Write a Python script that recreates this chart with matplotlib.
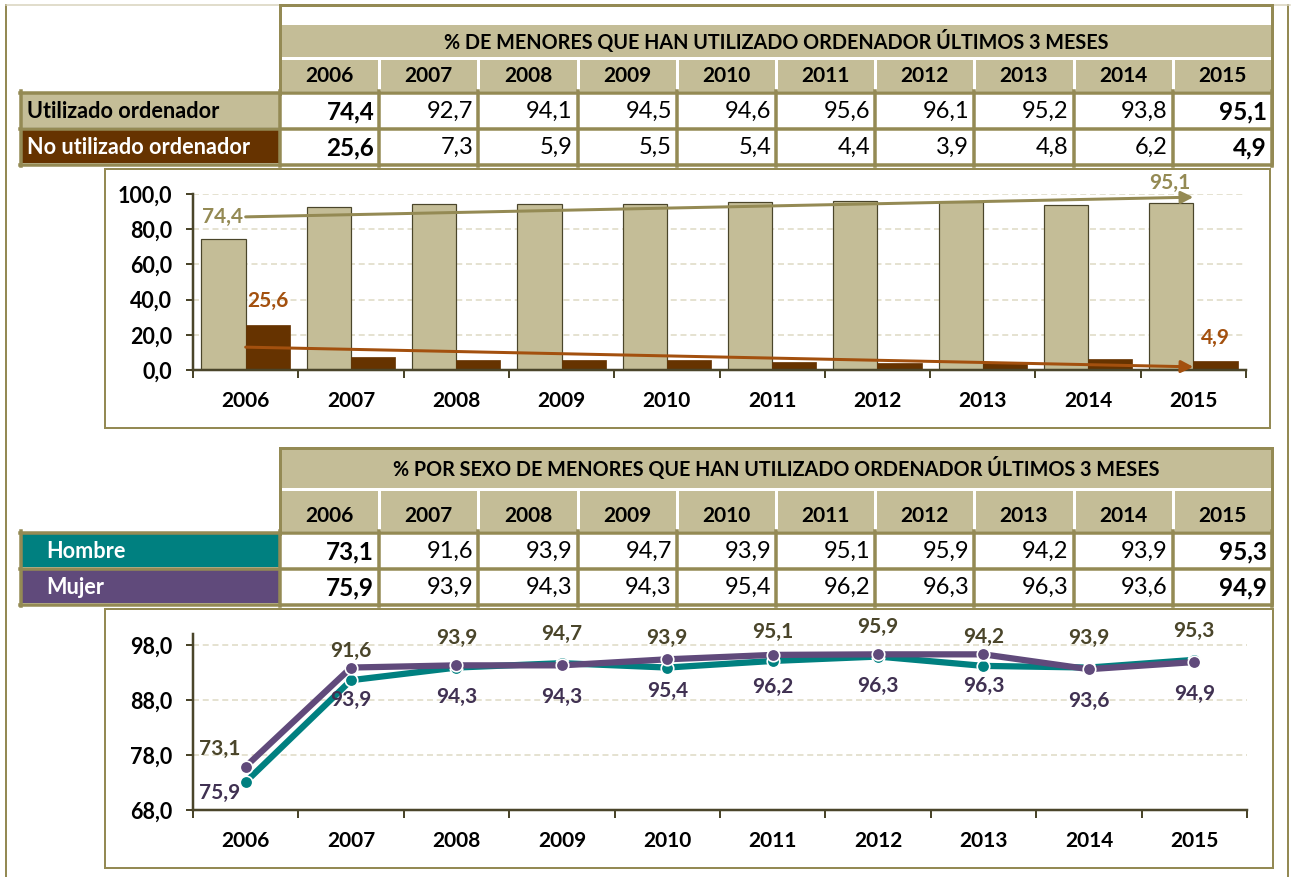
import numpy as np
import matplotlib
matplotlib.use("Agg")
import matplotlib.pyplot as plt
from matplotlib.patches import Rectangle
from matplotlib.ticker import FuncFormatter

# Datos
years = ["2006", "2007", "2008", "2009", "2010", "2011", "2012", "2013", "2014", "2015"]
utilizado = [74.4, 92.7, 94.1, 94.5, 94.6, 95.6, 96.1, 95.2, 93.8, 95.1]
no_utilizado = [25.6, 7.3, 5.9, 5.5, 5.4, 4.4, 3.9, 4.8, 6.2, 4.9]
hombre = [73.1, 91.6, 93.9, 94.7, 93.9, 95.1, 95.9, 94.2, 93.9, 95.3]
mujer = [75.9, 93.9, 94.3, 94.3, 95.4, 96.2, 96.3, 96.3, 93.6, 94.9]

titulo1 = "% DE MENORES QUE HAN UTILIZADO ORDENADOR ÚLTIMOS 3 MESES"
titulo2 = "% POR SEXO DE MENORES QUE HAN UTILIZADO ORDENADOR ÚLTIMOS 3 MESES"
filas1 = ["Utilizado ordenador", "No utilizado ordenador"]
filas2 = ["Hombre", "Mujer"]

# Colores
BEIGE = "#C4BD97"
OLIVA = "#948A54"
MARRON = "#663300"
MARRON_T = "#A3500E"
EJE = "#4A452A"
GRID = "#DDD9C3"
TEAL = "#008080"
MORADO = "#604A7B"
MORADO_T = "#403152"

plt.rcParams["font.family"] = ["Lato", "DejaVu Sans"]

W, H = 1296, 877
fig = plt.figure(figsize=(W / 100, H / 100), dpi=100)
fig.patch.set_facecolor("white")

# Eje de fondo en pixeles para tablas y marcos
bg = fig.add_axes([0, 0, 1, 1])
bg.set_xlim(0, W)
bg.set_ylim(H, 0)
bg.axis("off")

PX = 0.72  # px -> pt


def fmt(v):
    return f"{v:.1f}".replace(".", ",")


# Marco exterior
bg.plot([6, 6], [5, H], color=OLIVA, lw=2 * PX)
bg.plot([6, 280], [5, 5], color="#D8D3BC", lw=1.5 * PX)
bg.plot([1288, 1288], [5, H], color=OLIVA, lw=2 * PX)
bg.plot([1272, 1290], [5, 5], color="#D8D3BC", lw=1.5 * PX)

X0, X1 = 280, 1272
colw = (X1 - X0) / len(years)


def tabla(top, title_y, title_h, head_y, head_h, r1, r2, rh, titulo, filas,
          fill_lab, col_lab, text_x, valores):
    # bandas de titulo y cabecera
    bg.add_patch(Rectangle((X0, title_y), X1 - X0, title_h, fc=BEIGE, ec="none"))
    bg.add_patch(Rectangle((X0, head_y), X1 - X0, head_h, fc=BEIGE, ec="none"))
    bg.text((X0 + X1) / 2, title_y + title_h / 2, titulo, ha="center", va="center",
            fontsize=14.2, fontweight="bold", color="black")
    for i, y in enumerate(years):
        xc = X0 + colw * (i + 0.5)
        bg.text(xc, head_y + head_h - 15, y, ha="center", va="center",
                fontsize=15, fontweight="bold", color="black")
        if i > 0:
            bg.plot([X0 + colw * i] * 2, [head_y, head_y + head_h], color="white", lw=3 * PX)
    # borde superior y lateral
    bg.plot([X0, X1], [top, top], color=OLIVA, lw=3 * PX)
    bg.plot([X0, X0], [top, r1], color=OLIVA, lw=3 * PX)
    bg.plot([X1, X1], [top, r2 + rh], color=OLIVA, lw=3 * PX)
    # filas
    for k, (ry, lab) in enumerate(zip([r1, r2], filas)):
        bg.add_patch(Rectangle((21, ry), X0 - 21, rh, fc=fill_lab[k], ec="none"))
        bg.text(text_x, ry + rh / 2 + 1, lab, ha="left", va="center", fontsize=15.6,
                fontweight="bold", color=col_lab[k])
        for i, v in enumerate(valores[k]):
            bold = i == 0 or i == len(years) - 1
            bg.text(X0 + colw * (i + 1) - 5, ry + rh / 2 + 1, fmt(v), ha="right",
                    va="center", fontsize=17.5 if bold else 17,
                    fontweight="bold" if bold else "normal", color="black")
    # rejilla de la tabla
    for y in [r1 - 1.5, r2 - 1.5, r2 + rh + 1.5]:
        bg.plot([20, X1], [y, y], color=OLIVA, lw=3.5 * PX)
    for x in [21] + [X0 + colw * i for i in range(len(years) + 1)]:
        bg.plot([x, x], [r1 - 3, r2 + rh + 3], color=OLIVA, lw=3.5 * PX)


tabla(5, 25, 32, 60, 31, 94, 130, 33, titulo1, filas1,
      [BEIGE, MARRON], ["black", "white"], 27, [utilizado, no_utilizado])
tabla(448, 449, 39, 491, 40, 534, 570, 33, titulo2, filas2,
      [TEAL, MORADO], ["white", "white"], 46, [hombre, mujer])

# Marcos de los graficos
bg.add_patch(Rectangle((105, 169), 1165, 259, fc="white", ec=OLIVA, lw=2 * PX))
bg.add_patch(Rectangle((105, 609), 1168, 259, fc="white", ec=OLIVA, lw=2 * PX))


def estilo_ejes(ax, ylo, yhi, yticks):
    ax.set_facecolor("none")
    ax.set_xlim(-0.5, len(years) - 0.5)
    ax.set_ylim(ylo, yhi)
    for s in ["top", "right"]:
        ax.spines[s].set_visible(False)
    for s in ["left", "bottom"]:
        ax.spines[s].set_color(EJE)
        ax.spines[s].set_linewidth(2.5 * PX)
    ax.set_yticks(yticks)
    ax.yaxis.set_major_formatter(FuncFormatter(lambda v, p: fmt(v)))
    ax.tick_params(axis="y", length=5, width=2 * PX, color=EJE, pad=10,
                   labelsize=15.5)
    for t in ax.get_yticklabels():
        t.set_fontweight("bold")
    ax.set_xticks(np.arange(len(years)))
    ax.set_xticklabels(years, fontweight="bold", fontsize=15)
    ax.set_xticks(np.arange(len(years) + 1) - 0.5, minor=True)
    ax.tick_params(axis="x", which="major", length=0, pad=15)
    ax.tick_params(axis="x", which="minor", length=6, width=2 * PX, color=EJE)
    for y in yticks[1:]:
        ax.axhline(y, color=GRID, lw=1.5 * PX, ls=(0, (4, 2.5)), zorder=0)


# Grafico de barras
ax1 = fig.add_axes([193 / W, (H - 370) / H, (1246 - 193) / W, (370 - 194) / H])
estilo_ejes(ax1, 0, 100, [0, 20, 40, 60, 80, 100])
x = np.arange(len(years))
bw = 0.42
ax1.bar(x - bw / 2, utilizado, bw, color=BEIGE, edgecolor=EJE, lw=1.2 * PX, zorder=2)
ax1.bar(x + bw / 2, no_utilizado, bw, color=MARRON, edgecolor=MARRON, lw=0.5, zorder=2)

# lineas de tendencia
for serie, col in [(utilizado, OLIVA), (no_utilizado, MARRON_T)]:
    m, b = np.polyfit(x, serie, 1)
    ax1.annotate("", xy=(x[-1], m * x[-1] + b), xytext=(x[0], m * x[0] + b),
                 arrowprops=dict(arrowstyle="-|>", color=col, lw=3 * PX,
                                 mutation_scale=18, shrinkA=0, shrinkB=0), zorder=4)
    if serie is utilizado:
        ax1.annotate(fmt(serie[0]), (x[0], b), xytext=(-2, 0), textcoords="offset points",
                     ha="right", va="center", fontsize=15, fontweight="bold", color=col)
        ax1.annotate(fmt(serie[-1]), (x[-1], m * x[-1] + b), xytext=(-2, 3),
                     textcoords="offset points", ha="right", va="bottom",
                     fontsize=15, fontweight="bold", color=col)

for i in [0, len(years) - 1]:
    ax1.annotate(fmt(no_utilizado[i]), (x[i] + bw / 2, no_utilizado[i]), xytext=(0, 10),
                 textcoords="offset points", ha="center", va="bottom",
                 fontsize=15, fontweight="bold", color=MARRON_T)

# Grafico de lineas
ax2 = fig.add_axes([193 / W, (H - 810) / H, (1247 - 193) / W, (810 - 634) / H])
estilo_ejes(ax2, 68, 100, [68, 78, 88, 98])
ax2.plot(x, hombre, color=TEAL, lw=4.5, marker="o", ms=9, mfc=TEAL, mec="white",
         mew=1.2, zorder=3, solid_capstyle="round")
ax2.plot(x, mujer, color=MORADO, lw=4.5, marker="o", ms=9, mfc=MORADO, mec="white",
         mew=1.2, zorder=4, solid_capstyle="round")

for i in range(len(years)):
    dx = -19 if i == 0 else 0
    ax2.annotate(fmt(hombre[i]), (x[i], hombre[i]), xytext=(dx, 24 if i == 0 else 21),
                 textcoords="offset points", ha="center", va="center",
                 fontsize=15, fontweight="bold", color=EJE)
    ax2.annotate(fmt(mujer[i]), (x[i], mujer[i]), xytext=(dx, -19 if i == 0 else -23),
                 textcoords="offset points", ha="center", va="center",
                 fontsize=15, fontweight="bold", color=MORADO_T)

fig.savefig("out.png", dpi=100, facecolor="white")
